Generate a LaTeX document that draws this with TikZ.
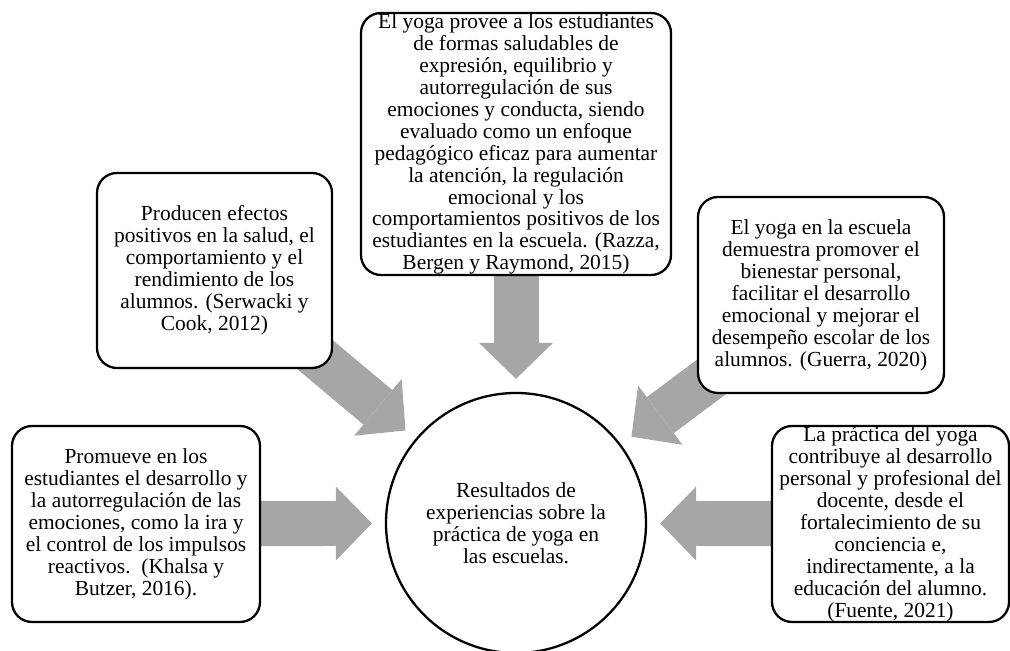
\documentclass[tikz,border=0pt]{standalone}
\usepackage{fontspec}
\setmainfont{Liberation Serif}
\usetikzlibrary{arrows.meta, backgrounds}
\definecolor{arrowgray}{RGB}{166,166,166}

\begin{document}
\begin{tikzpicture}[
    font=\fontsize{12.2}{12.5}\selectfont,
    card/.style={draw, line width=1.3pt, rounded corners=0.4cm, fill=white,
                 align=center, inner sep=0pt},
    hub/.style={draw, circle, line width=1.3pt, fill=white, align=center,
                inner sep=0pt, minimum size=5.2cm},
    fat/.style={line width=0.9cm, arrowgray, shorten >=0.26cm,
                -{Triangle[length=0.72cm, width=1.48cm, line width=0pt]}}
]
\useasboundingbox (0,0) rectangle (20.2,13.02);
% centre circle
\node[hub] (ctr) at (10.32,2.56) {Resultados de\\experiencias sobre la\\práctica de yoga en\\las escuelas.};
% boxes around it
\node[card, minimum width=6.2cm, minimum height=5.24cm] (tp) at (10.32,10.14)
   {El yoga provee a los estudiantes\\de formas saludables de\\expresión, equilibrio y\\autorregulación de sus\\emociones y conducta, siendo\\evaluado como un enfoque\\pedagógico eficaz para aumentar\\la atención, la regulación\\emocional y los\\comportamientos positivos de los\\estudiantes en la escuela. (Razza,\\Bergen y Raymond, 2015)};
\node[card, minimum width=4.7cm, minimum height=3.9cm] (ul) at (4.29,7.61)
   {Producen efectos\\positivos en la salud, el\\comportamiento y el\\rendimiento de los\\alumnos. (Serwacki y\\Cook, 2012)};
\node[card, minimum width=4.92cm, minimum height=3.92cm] (ur) at (16.42,7.12)
   {El yoga en la escuela\\demuestra promover el\\bienestar personal,\\facilitar el desarrollo\\emocional y mejorar el\\desempeño escolar de los\\alumnos. (Guerra, 2020)};
\node[card, minimum width=4.96cm, minimum height=3.92cm] (ll) at (2.72,2.54)
   {Promueve en los\\estudiantes el desarrollo y\\la autorregulación de las\\emociones, como la ira y\\el control de los impulsos\\reactivos.\ \ (Khalsa y\\Butzer, 2016).};
\node[card, minimum width=4.74cm, minimum height=3.92cm] (lr) at (17.81,2.54)
   {La práctica del yoga\\contribuye al desarrollo\\personal y profesional del\\docente, desde el\\fortalecimiento de su\\conciencia e,\\indirectamente, a la\\educación del alumno.\\(Fuente, 2021)};
% fat arrows, behind the boxes
\begin{scope}[on background layer]
\foreach \a in {tp, ul, ur, ll, lr}
   \draw[fat] (\a.center) -- (ctr);
\end{scope}
\end{tikzpicture}
\end{document}
